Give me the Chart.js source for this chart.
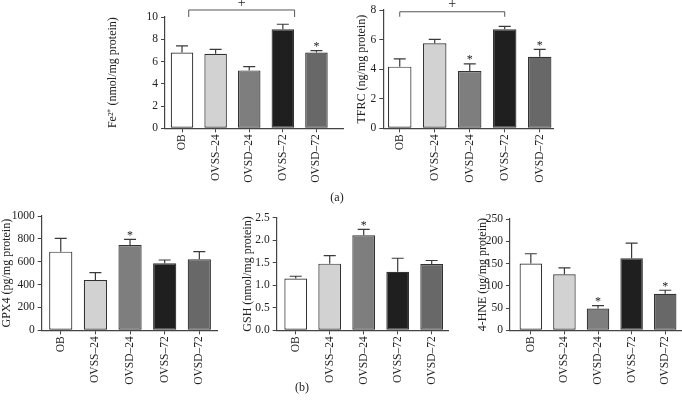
<!DOCTYPE html>
<html>
<head>
<meta charset="utf-8">
<script src="https://cdn.jsdelivr.net/npm/chart.js@4/dist/chart.umd.min.js"></script>
<style>
  html, body { margin: 0; padding: 0; background: #fff; }
  #wrap { position: relative; width: 682px; height: 403px; overflow: hidden; }
  canvas { position: absolute; }
  .cap { position: absolute; font: 12px "Liberation Serif", serif; color: #222; transform: translate(-50%, -50%); }
</style>
</head>
<body>
<div id="wrap">
  <canvas id="c1"></canvas>
  <canvas id="c2"></canvas>
  <canvas id="c3"></canvas>
  <canvas id="c4"></canvas>
  <canvas id="c5"></canvas>
  <div class="cap" style="left:337px; top:197px;">(a)</div>
  <div class="cap" style="left:302px; top:387px;">(b)</div>
</div>
<script>
// ---- data ----
const categories = ['OB', 'OVSS–24', 'OVSD–24', 'OVSS–72', 'OVSD–72'];

const feValues = [6.8, 6.7, 5.2, 8.9, 6.8];
const feErrors = [0.6, 0.4, 0.35, 0.45, 0.18];
const feStars = [4];

const tfrcValues = [4.17, 5.75, 3.87, 6.69, 4.84];
const tfrcErrors = [0.52, 0.27, 0.48, 0.2, 0.5];
const tfrcStars = [2, 4];

const gpx4Values = [688, 440, 746, 586, 621];
const gpx4Errors = [117, 64, 50, 29, 67];
const gpx4Stars = [2];

const gshValues = [1.15, 1.48, 2.11, 1.30, 1.47];
const gshErrors = [0.05, 0.18, 0.13, 0.30, 0.08];
const gshStars = [2];

const hneValues = [150, 126, 49, 162, 82];
const hneErrors = [22, 14, 6.5, 34, 8];
const hneStars = [2, 4];

const feTicks = [0, 2, 4, 6, 8, 10];
const tfrcTicks = [0, 2, 4, 6, 8];
const gpx4Ticks = [0, 200, 400, 600, 800, 1000];
const gshTicks = [0, 0.5, 1.0, 1.5, 2.0, 2.5];
const hneTicks = [0, 50, 100, 150, 200, 250];

// ---- styles ----
const barColors = ['#ffffff', '#d2d2d2', '#7e7e7e', '#1f1f1f', '#686868'];
const FONT = '"Liberation Serif", "Times New Roman", serif';
const INK = '#222222';
const AXIS = '#444444';

const extrasPlugin = {
  id: 'extras',
  afterDatasetsDraw(chart) {
    const p = chart.options.plugins.extras;
    const { ctx } = chart;
    const x = chart.scales.x, y = chart.scales.y;
    ctx.save();
    ctx.strokeStyle = '#3a3a3a';
    ctx.lineWidth = 1.2;
    ctx.fillStyle = INK;
    p.values.forEach((v, i) => {
      const cx = x.getPixelForValue(i);
      const y0 = y.getPixelForValue(v);
      const y1 = y.getPixelForValue(v + p.errors[i]);
      ctx.beginPath();
      ctx.moveTo(cx, y0);
      ctx.lineTo(cx, y1);
      ctx.moveTo(cx - 6, y1);
      ctx.lineTo(cx + 6, y1);
      ctx.stroke();
      if (p.stars.includes(i)) {
        ctx.font = '12px ' + FONT;
        ctx.textAlign = 'center';
        ctx.textBaseline = 'alphabetic';
        ctx.fillText('*', cx, y1 - 0.5);
      }
    });
    (p.brackets || []).forEach(b => {
      const xa = x.getPixelForValue(b.from), xb = x.getPixelForValue(b.to);
      const yb = y.getPixelForValue(b.y);
      ctx.strokeStyle = '#555';
      ctx.lineWidth = 1;
      ctx.beginPath();
      ctx.moveTo(xa, yb + b.drop);
      ctx.lineTo(xa, yb);
      ctx.lineTo(xb, yb);
      ctx.lineTo(xb, yb + b.drop);
      ctx.stroke();
      ctx.font = '14px ' + FONT;
      ctx.textAlign = 'center';
      ctx.textBaseline = 'middle';
      ctx.fillText(b.label, (xa + xb) / 2, yb - 7);
    });
    ctx.restore();
  }
};

function makeChart(id, cfg) {
  const cv = document.getElementById(id);
  cv.width = cfg.w; cv.height = cfg.h;
  cv.style.left = cfg.left + 'px'; cv.style.top = cfg.top + 'px';
  cv.style.width = cfg.w + 'px'; cv.style.height = cfg.h + 'px';
  const ticks = cfg.ticks;
  return new Chart(cv, {
    type: 'bar',
    data: {
      datasets: [{
        data: cfg.values.map((v, i) => ({ x: i, y: v })),
        backgroundColor: barColors,
        borderColor: '#333',
        borderWidth: 1.2,
        borderSkipped: false,
        barPercentage: 0.67,
        categoryPercentage: 1
      }]
    },
    options: {
      responsive: false,
      animation: false,
      devicePixelRatio: 1,
      layout: { padding: { top: cfg.padTop, right: cfg.padRight, left: 0, bottom: 0 } },
      plugins: {
        legend: { display: false },
        tooltip: { enabled: false },
        extras: { values: cfg.values, errors: cfg.errors, stars: cfg.stars, brackets: cfg.brackets }
      },
      scales: {
        x: {
          type: 'linear',
          min: cfg.xMin, max: cfg.xMax,
          offset: false,
          grid: { offset: false, drawOnChartArea: false, drawTicks: true, tickLength: 4, color: AXIS, lineWidth: 1 },
          border: { color: AXIS, width: 1.2 },
          afterBuildTicks: s => { s.ticks = categories.map((c, i) => ({ value: i })); },
          afterFit: s => { s.height = cfg.h - cfg.axisY + cfg.top; },
          ticks: {
            autoSkip: false, minRotation: 90, maxRotation: 90, padding: 2,
            color: INK, font: { family: FONT, size: 11.5 },
            callback: v => categories[v]
          }
        },
        y: {
          min: ticks[0], max: ticks[ticks.length - 1],
          afterBuildTicks: s => { s.ticks = ticks.map(v => ({ value: v })); },
          afterFit: s => { s.width = cfg.axisX - cfg.left; },
          grid: { drawOnChartArea: false, drawTicks: true, tickLength: 4, color: AXIS, lineWidth: 1 },
          border: { color: AXIS, width: 1.2 },
          ticks: {
            padding: 3, color: INK, font: { family: FONT, size: 11.5 },
            callback: v => cfg.fmt(v)
          },
          title: { display: true, text: cfg.title, color: INK, font: { family: FONT, size: 12 }, padding: 0 }
        }
      }
    },
    plugins: [extrasPlugin]
  });
}

makeChart('c1', {
  left: 106, top: 0, w: 242, h: 200, axisX: 165, axisY: 128.3, padTop: 17, padRight: 5,
  xMin: -0.506, xMax: 4.79, ticks: feTicks, fmt: v => String(v),
  values: feValues, errors: feErrors, stars: feStars,
  brackets: [{ from: 0.2, to: 3.35, y: 10.63, drop: 7, label: '+' }],
  title: 'Fe²⁺ (nmol/mg protein)'
});
makeChart('c2', {
  left: 355, top: 0, w: 202, h: 200, axisX: 383.3, axisY: 128.3, padTop: 10, padRight: 4,
  xMin: -0.47, xMax: 4.38, ticks: tfrcTicks, fmt: v => String(v),
  values: tfrcValues, errors: tfrcErrors, stars: tfrcStars,
  brackets: [{ from: 0, to: 3, y: 7.88, drop: 5, label: '+' }],
  title: 'TFRC (ng/mg protein)'
});
makeChart('c3', {
  left: 0, top: 205, w: 221, h: 198, axisX: 41.7, axisY: 330.3, padTop: 11, padRight: 4,
  xMin: -0.55, xMax: 4.51, ticks: gpx4Ticks, fmt: v => String(v),
  values: gpx4Values, errors: gpx4Errors, stars: gpx4Stars, brackets: [],
  title: 'GPX4 (pg/mg protein)'
});
makeChart('c4', {
  left: 241, top: 205, w: 211, h: 198, axisX: 276.7, axisY: 330.3, padTop: 12.7, padRight: 4,
  xMin: -0.56, xMax: 4.48, ticks: gshTicks, fmt: v => v.toFixed(1),
  values: gshValues, errors: gshErrors, stars: gshStars, brackets: [],
  title: 'GSH (nmol/mg protein)'
});
makeChart('c5', {
  left: 476, top: 205, w: 206, h: 198, axisX: 510, axisY: 330.3, padTop: 14, padRight: 0,
  xMin: -0.62, xMax: 4.5, ticks: hneTicks, fmt: v => String(v),
  values: hneValues, errors: hneErrors, stars: hneStars, brackets: [],
  title: '4-HNE (ug/mg protein)'
});
</script>
</body>
</html>
